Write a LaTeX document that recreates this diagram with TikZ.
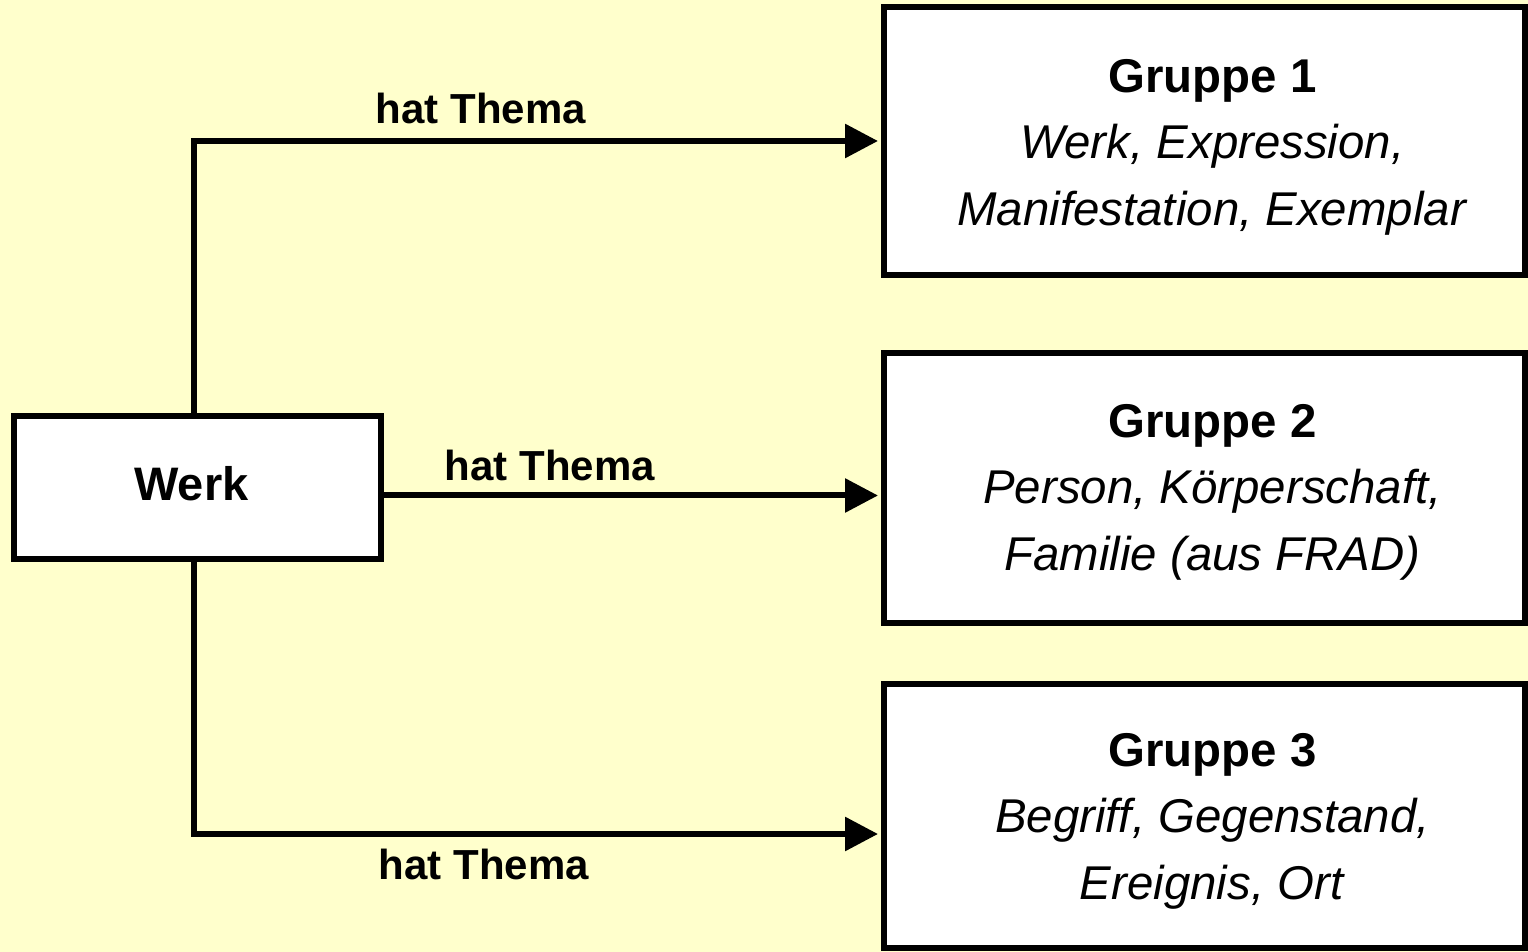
\documentclass[tikz,border=0pt]{standalone}
\usepackage{fontspec}
\setmainfont{Liberation Sans}
\usetikzlibrary{arrows.meta}
\definecolor{paper}{HTML}{FFFFCC}

\begin{document}
\begin{tikzpicture}[x=0.5pt, y=-0.5pt,
	box/.style={draw, line width=3pt, fill=white, inner sep=0pt},
	gruppe/.style={box, minimum width=320.5pt},
	gtext/.style={align=center, inner sep=0pt, font=\fontsize{23.7}{33.2}\selectfont},
	conn/.style={line width=3pt, -{Triangle[length=16.5pt, width=16.5pt]}, shorten >=1.5pt},
	rel/.style={font=\fontsize{21}{25}\selectfont\bfseries}]
	% background
	\fill [paper] (0,0) rectangle (1528,952);
	\useasboundingbox (0,0) rectangle (1528,952);
	% boxes
	\node [box, minimum width=183.5pt, minimum height=71.5pt] (werk) at (197.5,487.5) {};
	\node [gruppe, minimum height=134pt] (g1) at (1204.5,141) {};
	\node [gruppe, minimum height=135pt] (g2) at (1204.5,488) {};
	\node [gruppe, minimum height=132pt] (g3) at (1204.5,816) {};
	% texts
	\node [font=\fontsize{23.5}{28}\selectfont\bfseries] (werktext) at ([xshift=-3pt, yshift=2pt]werk.center) {Werk};
	\node [gtext] (g1text) at ([xshift=4pt, yshift=-3pt]g1.center) {\textbf{Gruppe 1}\\\textit{Werk, Expression,}\\\textit{Manifestation, Exemplar}};
	\node [gtext] (g2text) at ([xshift=4pt, yshift=-2pt]g2.center) {\textbf{Gruppe 2}\\\textit{Person, Körperschaft,}\\\textit{Familie (aus FRAD)}};
	\node [gtext] (g3text) at ([xshift=4pt, yshift=-2.5pt]g3.center) {\textbf{Gruppe 3}\\\textit{Begriff, Gegenstand,}\\\textit{Ereignis, Ort}};
	% connectors
	\coordinate (up) at (194,413);
	\coordinate (down) at (194,562);
	\draw [conn] (up) |- (g1.west);
	\draw [conn] (werk.east |- 0,495.5) -- (g2.west |- 0,495.5);
	\draw [conn] (down) |- (g3.west |- 0,834);
	% labels
	\node [rel] (t1) at (481,108) {hat Thema};
	\node [rel] (t2) at (550,465) {hat Thema};
	\node [rel] (t3) at (484,864) {hat Thema};
\end{tikzpicture}
\end{document}
